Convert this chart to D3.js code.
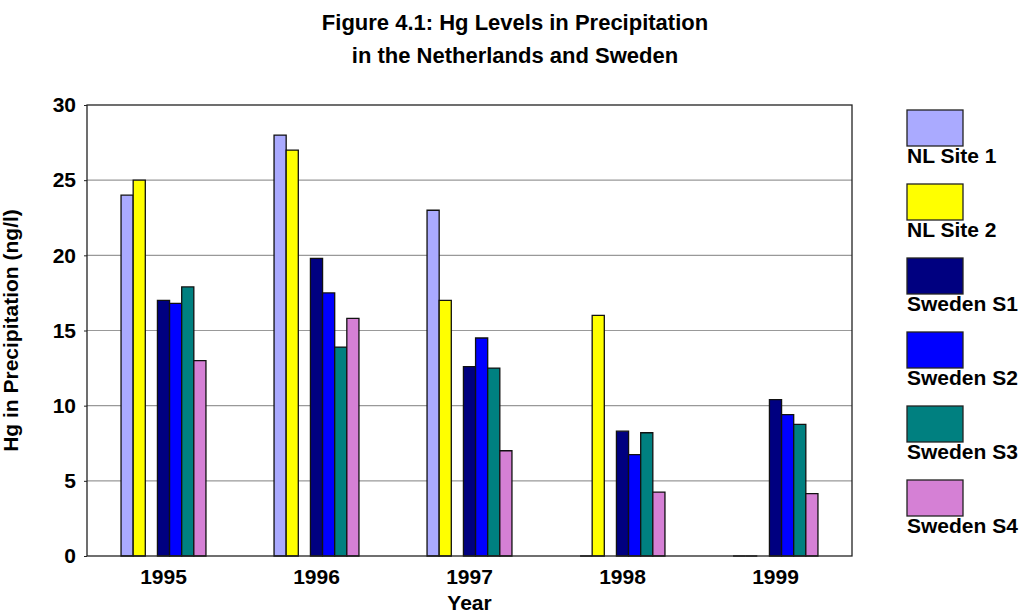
<!DOCTYPE html>
<html>
<head>
<meta charset="utf-8">
<script src="https://cdn.jsdelivr.net/npm/d3@7"></script>
<style>
  body { margin: 0; background: #fff; }
  text { font-family: "Liberation Sans", Arial, sans-serif; font-weight: bold; fill: #000; }
</style>
</head>
<body>
<svg width="1030" height="613"></svg>
<script>
const years = ['1995', '1996', '1997', '1998', '1999'];
const seriesNames = ['NL Site 1', 'NL Site 2', 'Sweden S1', 'Sweden S2', 'Sweden S3', 'Sweden S4'];
const seriesColors = ['#aaaaff', '#ffff00', '#000080', '#0000ff', '#008080', '#d580d5'];
// one value per year, per series
const nlSite1   = [24, 28, 23, 0, 0];
const nlSite2   = [25, 27, 17, 16, 0];
const swedenS1  = [17, 19.8, 12.6, 8.3, 10.4];
const swedenS2  = [16.8, 17.5, 14.5, 6.75, 9.4];
const swedenS3  = [17.9, 13.9, 12.5, 8.2, 8.75];
const swedenS4  = [13, 15.8, 7, 4.25, 4.15];
const yTicks = [0, 5, 10, 15, 20, 25, 30];

const seriesValues = [nlSite1, nlSite2, swedenS1, swedenS2, swedenS3, swedenS4];
// Excel layout had an empty slot between the NL and Swedish bars
const slots = ['NL Site 1', 'NL Site 2', 'gap', 'Sweden S1', 'Sweden S2', 'Sweden S3', 'Sweden S4'];

const svg = d3.select('svg');
const margin = { top: 105, left: 87, right: 178, bottom: 57 };
const width = +svg.attr('width');
const height = +svg.attr('height');
const innerWidth = width - margin.left - margin.right;
const innerHeight = height - margin.top - margin.bottom;
const fontSize = '21px';

// title
svg.append('text')
  .attr('x', 515).attr('y', 30)
  .attr('text-anchor', 'middle')
  .style('font-size', '22px')
  .text('Figure 4.1: Hg Levels in Precipitation');
svg.append('text')
  .attr('x', 515).attr('y', 63)
  .attr('text-anchor', 'middle')
  .style('font-size', '22px')
  .text('in the Netherlands and Sweden');

const g = svg.append('g')
  .attr('transform', `translate(${margin.left},${margin.top})`);

const xScale = d3.scaleBand()
  .domain(years)
  .range([0, innerWidth]);

const slotScale = d3.scaleBand()
  .domain(slots)
  .range([0, xScale.bandwidth() * 0.555])
  .padding(0);

const yScale = d3.scaleLinear()
  .domain([0, 30])
  .range([innerHeight, 0]);

// gridlines
g.append('g')
  .selectAll('line')
  .data(yTicks.filter(t => t > 0 && t < 30))
  .enter().append('line')
    .attr('x1', 0).attr('x2', innerWidth)
    .attr('y1', d => yScale(d)).attr('y2', d => yScale(d))
    .attr('stroke', '#999')
    .attr('stroke-width', 1.2);

// bars
const groupOffset = (xScale.bandwidth() - slotScale.range()[1]) / 2;
const barData = [];
years.forEach((yr, i) => {
  seriesNames.forEach((s, j) => {
    barData.push({ year: yr, series: s, value: seriesValues[j][i], color: seriesColors[j] });
  });
});

g.append('g')
  .selectAll('path')
  .data(barData)
  .enter().append('path')
    .attr('d', d => {
      const x = xScale(d.year) + groupOffset + slotScale(d.series);
      const w = slotScale.bandwidth();
      const y0 = yScale(0);
      const y1 = yScale(d.value);
      return `M${x},${y0}V${y1}H${x + w}V${y0}Z`;
    })
    .attr('fill', d => d.color)
    .attr('stroke', '#111')
    .attr('stroke-width', 1.3);

// frame
g.append('rect')
  .attr('width', innerWidth)
  .attr('height', innerHeight)
  .attr('fill', 'none')
  .attr('stroke', '#222')
  .attr('stroke-width', 1.3);

// y axis
const yAxis = d3.axisLeft(yScale)
  .tickValues(yTicks)
  .tickSize(3)
  .tickPadding(8);
const yAxisG = g.append('g').call(yAxis);
yAxisG.select('.domain').remove();
yAxisG.selectAll('.tick line').attr('stroke', '#222');
yAxisG.selectAll('text')
  .style('font-size', fontSize)
  .style('font-family', '"Liberation Sans", Arial, sans-serif')
  .style('font-weight', 'bold')
  .attr('fill', '#000');

// x axis
const xAxis = d3.axisBottom(xScale).tickSize(0).tickPadding(13);
const xAxisG = g.append('g')
  .attr('transform', `translate(0,${innerHeight})`)
  .call(xAxis);
xAxisG.select('.domain').remove();
xAxisG.selectAll('text')
  .style('font-size', fontSize)
  .style('font-family', '"Liberation Sans", Arial, sans-serif')
  .style('font-weight', 'bold')
  .attr('fill', '#000');

// axis titles
svg.append('text')
  .attr('x', margin.left + innerWidth / 2).attr('y', 610)
  .attr('text-anchor', 'middle')
  .style('font-size', fontSize)
  .text('Year');

svg.append('text')
  .attr('transform', `translate(18,${margin.top + innerHeight / 2}) rotate(-90)`)
  .attr('text-anchor', 'middle')
  .style('font-size', fontSize)
  .text('Hg in Precipitation (ng/l)');

// legend
const legend = svg.append('g')
  .attr('transform', 'translate(907,110)');
const item = legend.selectAll('g')
  .data(seriesNames)
  .enter().append('g')
    .attr('transform', (d, i) => `translate(0,${i * 74})`);
item.append('rect')
  .attr('width', 56).attr('height', 36)
  .attr('fill', (d, i) => seriesColors[i])
  .attr('stroke', '#222')
  .attr('stroke-width', 1.3);
item.append('text')
  .attr('x', 0).attr('y', 53)
  .style('font-size', fontSize)
  .text(d => d);
</script>
</body>
</html>
